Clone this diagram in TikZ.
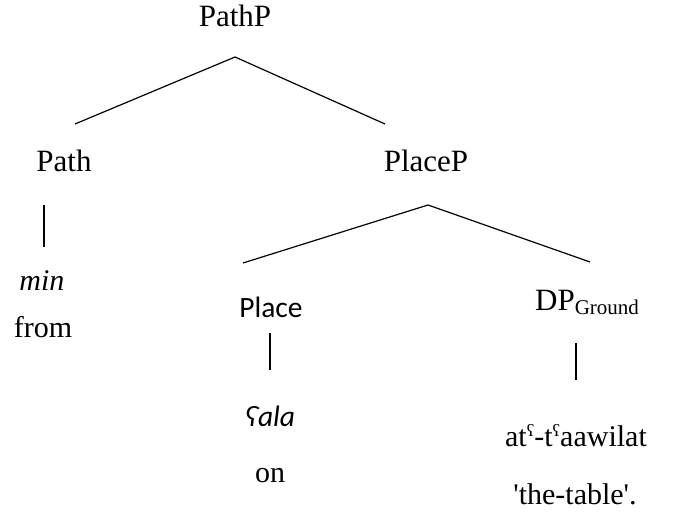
\documentclass[tikz,border=0pt]{standalone}
\usepackage{fontspec}
\setmainfont{Liberation Serif}
\newfontfamily\calfont{Carlito}
\newcommand{\phar}{\raisebox{0.36em}{\fontsize{17}{17}\selectfont ʕ}}
\begin{document}
\begin{tikzpicture}[x=1pt,y=-1pt,
  lbl/.style={anchor=base,inner sep=0pt,font=\fontsize{30}{34}\selectfont},
  big/.style={anchor=base,inner sep=0pt,font=\fontsize{31}{34}\selectfont},
  cal/.style={anchor=base,inner sep=0pt,font=\calfont\fontsize{29.5}{34}\selectfont},
  br/.style={line width=1.2pt}]
\useasboundingbox (0,0) rectangle (673,521);
% labels
\node[big] (pathp) at (235,27) {PathP};
\node[big] (path) at (64,172) {Path};
\node[lbl] (min) at (42,291) {\itshape min};
\node[lbl] (from) at (43,338) {from};
\node[big] (placep) at (426,172) {PlaceP};
\node[cal] (place) at (271,318) {Place};
\node[cal] (ala) at (270,427) {\itshape ʕala};
\node[lbl] (on) at (270,483) {on};
\node[big,anchor=base west] (dp) at (535,311) {DP\raisebox{-4pt}{\fontsize{21}{21}\selectfont Ground}};
\node[lbl] (taw) at (576,447) {at\phar-t\phar aawilat};
\node[lbl] (tab) at (575,505) {\textquotesingle the-table\textquotesingle.};
% branch points
\coordinate (a1) at (235,57);
\coordinate (l1) at (75,124);
\coordinate (r1) at (385,124);
\coordinate (a2) at (428,205);
\coordinate (l2) at (243,263);
\coordinate (r2) at (590,262);
\coordinate (p1) at (44,205);
\coordinate (p2) at (44,247);
\coordinate (q1) at (270,333);
\coordinate (q2) at (270,370);
\coordinate (d1) at (576,343);
\coordinate (d2) at (576,380);
\draw[br] (l1) -- (a1) -- (r1);
\draw[br] (l2) -- (a2) -- (r2);
\draw[br] (p1) -- (p2);
\draw[br] (q1) -- (q2);
\draw[br] (d1) -- (d2);
\end{tikzpicture}
\end{document}
